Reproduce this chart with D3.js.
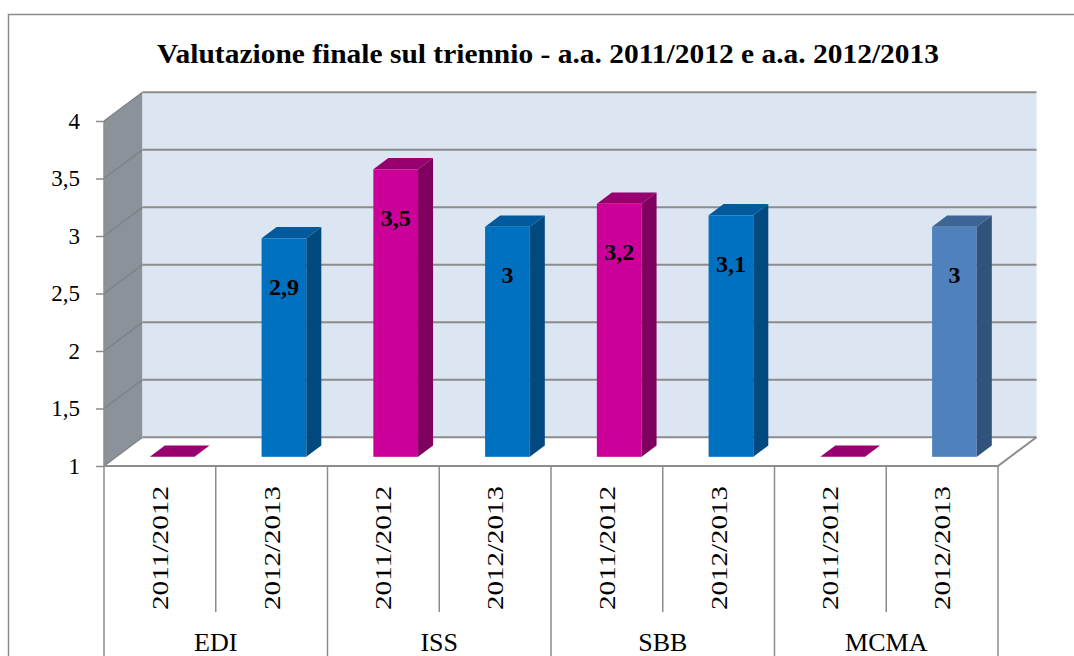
<!DOCTYPE html>
<html>
<head>
<meta charset="utf-8">
<script src="https://cdn.jsdelivr.net/npm/d3@7"></script>
<style>
  body { margin: 0; background: #fff; }
  svg { display: block; }
</style>
</head>
<body>
<div id="chart"></div>
<script>
// data
var groups = ['EDI', 'ISS', 'SBB', 'MCMA'];
var years = ['2011/2012', '2012/2013'];
var values_2011 = [null, 3.5, 3.2, null];
var values_2013 = [2.9, 3, 3.1, 3];
var y_ticks = [1, 1.5, 2, 2.5, 3, 3.5, 4];
var title = 'Valutazione finale sul triennio - a.a. 2011/2012 e a.a. 2012/2013';

var chart_width = 1074;
var chart_height = 656;
var font = '"Liberation Serif", "DejaVu Serif", serif';

// depth of the 3d box
var DX = 38.5, DY = -28.7;
var d0 = 0.32, dd = 0.39;

var it = d3.formatLocale({ decimal: ',', thousands: '.', grouping: [3], currency: ['', ' €'] });
var fmt = it.format('~g');

var rows = [];
groups.forEach(function (g, i) {
  rows.push({ key: g + '|' + years[0], group: g, year: years[0], value: values_2011[i], series: 0 });
  rows.push({ key: g + '|' + years[1], group: g, year: years[1], value: values_2013[i], series: g === 'MCMA' ? 2 : 1 });
});

var colors = [
  { front: '#cc0099', side: '#7f005f', top: '#99006f' },
  { front: '#0070c0', side: '#004a80', top: '#005a9c' },
  { front: '#4f81bd', side: '#31527a', top: '#3c6595' }
];

var svg = d3.select('#chart')
  .append('svg')
  .attr('width', chart_width)
  .attr('height', chart_height);

svg.append('rect').attr('width', chart_width).attr('height', chart_height).attr('fill', '#fff');

// outer frame
svg.append('path')
  .attr('d', 'M8.5,' + chart_height + 'V14.5H' + chart_width)
  .attr('fill', 'none')
  .attr('stroke', '#8c8c8c')
  .attr('stroke-width', 1.5);

// title
svg.append('text')
  .attr('x', 548)
  .attr('y', 63)
  .attr('text-anchor', 'middle')
  .attr('font-family', font)
  .attr('font-weight', 'bold')
  .attr('font-size', 27)
  .attr('textLength', 782)
  .attr('lengthAdjust', 'spacingAndGlyphs')
  .attr('fill', '#000')
  .text(title);

// scales
var xScale = d3.scaleBand()
  .domain(rows.map(function (d) { return d.key; }))
  .range([104, 998]);
var yScale = d3.scaleLinear()
  .domain([1, 4])
  .range([466, 121]);

var x0 = xScale.range()[0], x1 = xScale.range()[1];
var yb = yScale(1), yt = yScale(4);

// side wall
svg.append('polygon')
  .attr('points', [[x0, yt], [x0 + DX, yt + DY], [x0 + DX, yb + DY], [x0, yb]].join(' '))
  .attr('fill', '#8b9299');

// back wall
svg.append('rect')
  .attr('x', x0 + DX)
  .attr('y', yt + DY)
  .attr('width', x1 - x0)
  .attr('height', yb - yt)
  .attr('fill', '#dce6f2');

// floor
svg.append('polygon')
  .attr('points', [[x0, yb], [x1, yb], [x1 + DX, yb + DY], [x0 + DX, yb + DY]].join(' '))
  .attr('fill', '#fff');

// gridlines
var grid = svg.append('g');
y_ticks.forEach(function (t) {
  var y = yScale(t);
  grid.append('line')
    .attr('x1', x0).attr('y1', y).attr('x2', x0 + DX).attr('y2', y + DY)
    .attr('stroke', '#7c8187').attr('stroke-width', 1.3);
  grid.append('line')
    .attr('x1', x0 + DX).attr('y1', y + DY).attr('x2', x1 + DX).attr('y2', y + DY)
    .attr('stroke', '#8c8c8c').attr('stroke-width', 2);
});

// floor edges
svg.append('path')
  .attr('d', 'M' + [x0, yb] + 'L' + [x1, yb] + 'L' + [x1 + DX, yb + DY])
  .attr('fill', 'none')
  .attr('stroke', '#8c8c8c')
  .attr('stroke-width', 2);
svg.append('line')
  .attr('x1', x0).attr('y1', yt).attr('x2', x0).attr('y2', yb)
  .attr('stroke', '#8c8c8c').attr('stroke-width', 1.5);

// y axis
var yAxis = d3.axisLeft(yScale)
  .tickValues(y_ticks)
  .tickSize(8)
  .tickPadding(16)
  .tickFormat(fmt);

var gy = svg.append('g')
  .attr('transform', 'translate(' + x0 + ',0)')
  .call(yAxis);
gy.select('.domain').remove();
gy.selectAll('.tick line').attr('stroke', '#8c8c8c').attr('stroke-width', 1.5);
gy.selectAll('.tick text')
  .attr('font-family', font)
  .attr('font-size', 23)
  .attr('fill', '#000');

// category dividers
var slot = xScale.bandwidth();
d3.range(rows.length + 1).forEach(function (i) {
  svg.append('line')
    .attr('x1', x0 + i * slot).attr('x2', x0 + i * slot)
    .attr('y1', yb)
    .attr('y2', i % 2 === 0 ? chart_height : 612)
    .attr('stroke', '#8c8c8c')
    .attr('stroke-width', 1.5);
});

// year labels
svg.selectAll('.year')
  .data(rows)
  .enter()
  .append('text')
  .attr('class', 'year')
  .attr('transform', function (d) {
    return 'translate(' + (xScale(d.key) + slot / 2 + 8) + ',548) rotate(-90)';
  })
  .attr('text-anchor', 'middle')
  .attr('font-family', font)
  .attr('font-size', 24)
  .attr('textLength', 124)
  .attr('lengthAdjust', 'spacingAndGlyphs')
  .attr('fill', '#000')
  .text(function (d) { return d.year; });

// group labels
svg.selectAll('.group')
  .data(groups)
  .enter()
  .append('text')
  .attr('class', 'group')
  .attr('x', function (g) { return xScale(g + '|' + years[0]) + slot; })
  .attr('y', 651)
  .attr('text-anchor', 'middle')
  .attr('font-family', font)
  .attr('font-size', 26)
  .attr('fill', '#000')
  .text(function (g) { return g; });

// 3d bars
var barW = slot * 0.4;
var bars = svg.append('g');
rows.forEach(function (d) {
  var c = colors[d.series];
  var fx = xScale(d.key) + (slot - barW) / 2 + DX * d0;
  var bottom = yb + DY * d0;
  var top = d.value == null ? bottom : yScale(d.value) + DY * d0;
  var ox = DX * dd, oy = DY * dd;

  if (d.value != null) {
    bars.append('rect')
      .attr('x', fx).attr('y', top)
      .attr('width', barW).attr('height', bottom - top)
      .attr('fill', c.front);
    bars.append('polygon')
      .attr('points', [[fx + barW, top], [fx + barW + ox, top + oy], [fx + barW + ox, bottom + oy], [fx + barW, bottom]].join(' '))
      .attr('fill', c.side);
  }
  bars.append('polygon')
    .attr('points', [[fx, top], [fx + barW, top], [fx + barW + ox, top + oy], [fx + ox, top + oy]].join(' '))
    .attr('fill', c.top);

  if (d.value != null) {
    bars.append('text')
      .attr('x', fx + barW / 2)
      .attr('y', top + 48)
      .attr('dy', '0.35em')
      .attr('text-anchor', 'middle')
      .attr('font-family', font)
      .attr('font-weight', 'bold')
      .attr('font-size', 24)
      .attr('fill', '#000')
      .text(fmt(d.value));
  }
});
</script>
</body>
</html>
